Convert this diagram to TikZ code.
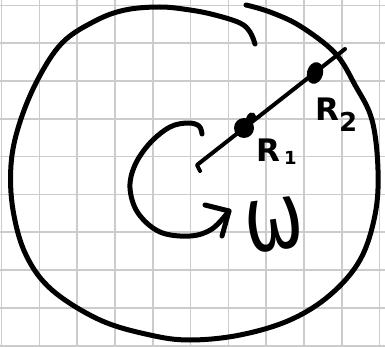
\documentclass[tikz,border=0pt]{standalone}
\usepackage{fontspec}
\newfontfamily\handfont{DejaVu Sans}
\usetikzlibrary{shapes.geometric}
\tikzset{
  gridline/.style={draw=black!20, line width=1.6pt},
  ink/.style={draw=black, line width=5pt, line cap=round, line join=round},
  thinink/.style={draw=black, line width=4pt, line cap=round, line join=round},
  blob/.style={fill=black, draw=none},
  lbl/.style={inner sep=0pt, font=\handfont\bfseries\fontsize{31}{31}\selectfont},
}
\begin{document}
\begin{tikzpicture}[x=1pt,y=-1pt]
\useasboundingbox (0,0) rectangle (385,347);
\fill[white] (0,0) rectangle (385,347);
% grid paper
\foreach \i in {0,...,10} \draw[gridline] (1.5+37.8*\i,0) -- ++(0,347);
\foreach \j in {0,...,9} \draw[gridline] (0,5.5+37.8*\j) -- ++(385,0);
% outer hand-drawn circle
\draw[ink] plot[smooth, tension=0.6] coordinates {
 (255,44) (250,32) (240,23) (215,15) (190,10) (160,7) (125,10) (95,21)
 (62,43) (37,81) (19,125) (11,165) (13,210) (26,255) (52,290) (100,320)
 (150,335) (190,340) (240,335) (290,320) (330,295) (360,260) (375,215)
 (378,170) (372,120) (355,85) (335,53) (300,26) (270,12) (246,5)};
% radius line and points
\coordinate (c) at (197,165);
\coordinate (ctick) at (200,171);
\coordinate (e) at (345,49);
\draw[thinink] (ctick) -- (c) -- (e);
\node[blob, circle, minimum size=20pt, inner sep=0pt] (r1) at (244,128) {};
\node[blob, ellipse, minimum width=9pt, minimum height=12pt, inner sep=0pt, rotate=-30] (r1b) at (251,118) {};
\node[blob, ellipse, minimum width=16pt, minimum height=22pt, inner sep=0pt, rotate=-15] (r2) at (315,73) {};
% labels
\node[lbl, anchor=base west] (l1) at (256,162) {R\kern4pt\raisebox{-3pt}{\fontsize{18}{18}\selectfont 1}};
\node[lbl, anchor=base west] (l2) at (315,121) {R\kern0pt\raisebox{-11pt}{\fontsize{26}{26}\selectfont 2}};
% rotation arrow
\coordinate (a0) at (202,134);
\coordinate (tip) at (229,211);
\coordinate (h1) at (205,205);
\coordinate (h2) at (222,236);
\draw[ink] plot[smooth, tension=0.6] coordinates {
 (a0) (199,126) (188,123) (170,127) (150,143) (135,165) (130,188)
 (138,213) (160,232) (190,236) (212,229) (tip)};
\draw[ink] (h1) -- (tip) -- (h2);
\node[inner sep=0pt, rotate=8, xscale=0.95, yscale=1.25, font=\handfont\fontsize{74}{74}\selectfont] (w) at (274,225) {ω};
\end{tikzpicture}
\end{document}
